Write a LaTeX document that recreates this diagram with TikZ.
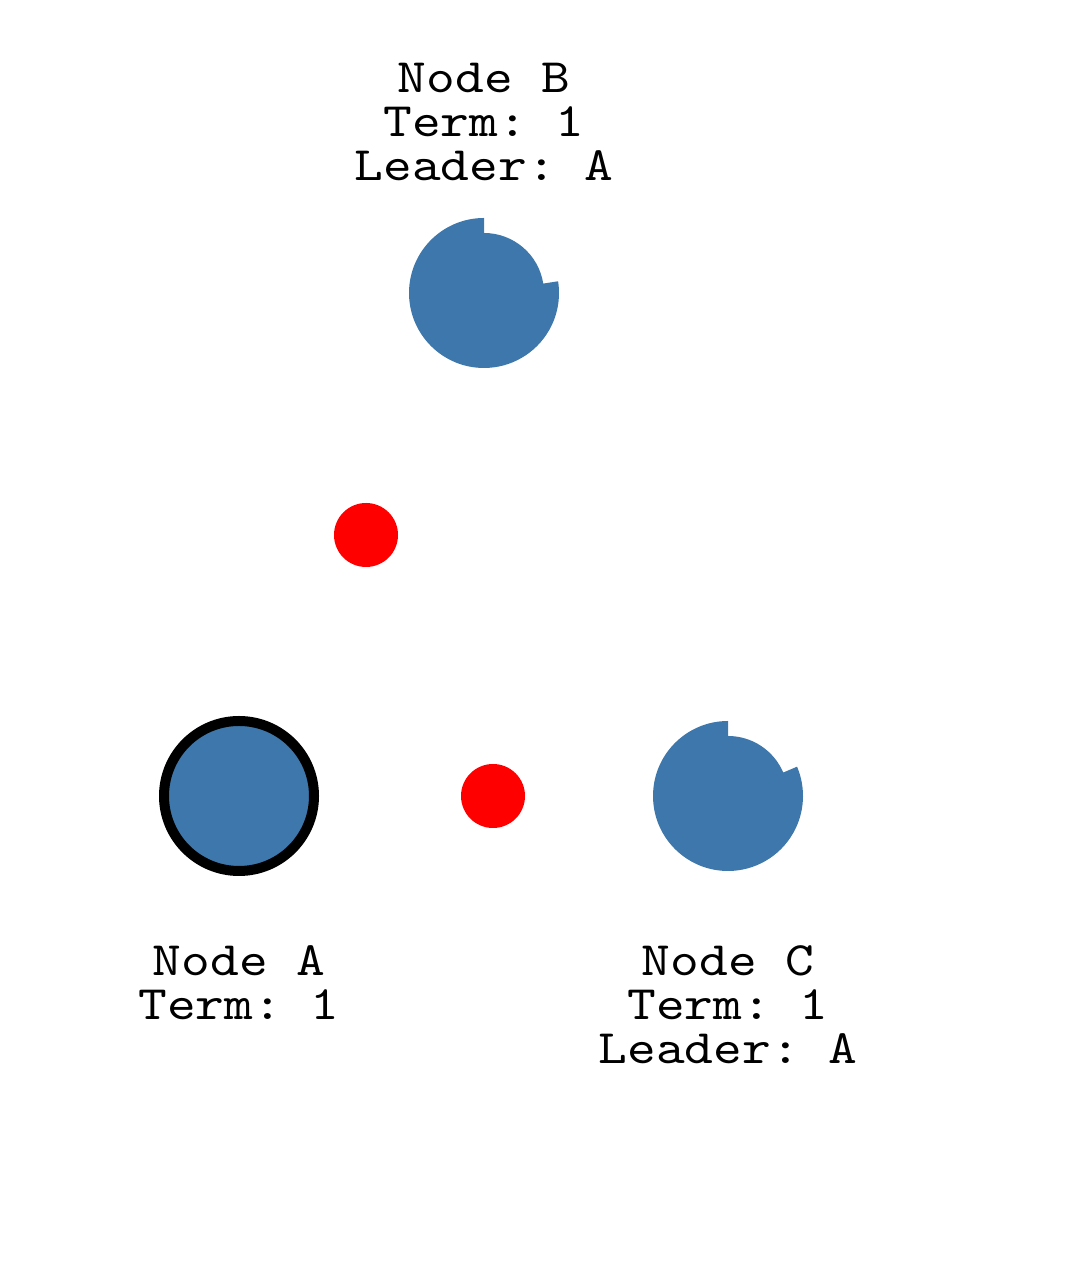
\documentclass[tikz,border=0pt]{standalone}
\usepackage{fontspec}
\newfontfamily\labelfont{lmmono10-regular.otf}[FakeStretch=1.14]
\definecolor{nodeblue}{RGB}{61,119,171}
\begin{document}
\begin{tikzpicture}[x=0.75pt,y=0.75pt,thick,
    leader node/.style={circle,draw=black,line width=7.5pt,fill=nodeblue,minimum size=112.5pt,inner sep=0},
    msg node/.style={circle,fill=red,minimum size=48pt,inner sep=0},
    label node/.style={align=center,inner sep=0,anchor=north,font=\labelfont\fontsize{36}{33}\selectfont\frenchspacing},
    follower/.style={fill=nodeblue}]
                \useasboundingbox (0,0) rectangle (1070,1280);
                \node[leader node] at (239, 484) (a) {};
                \coordinate (b) at (484, 987);
                \coordinate (c) at (728, 484);
                \fill[follower] (b) ++(90:75) arc[start angle=90, end angle=369, radius=75] -- ++(189:15) arc[start angle=9, end angle=90, radius=60] -- cycle;
                \fill[follower] (c) ++(90:75) arc[start angle=90, end angle=383, radius=75] -- ++(203:15) arc[start angle=23, end angle=90, radius=60] -- cycle;

                \node[msg node] at (366, 745) (ab) {};
                \node[msg node] at (493, 484) (ac) {};

                \node[label node] at (484, 1217) (lb) {Node B\\Term: 1\\Leader: A};
                \node[label node] at (239, 335) (la) {Node A\\Term: 1};
                \node[label node] at (728, 335) (lc) {Node C\\Term: 1\\Leader: A};
            \end{tikzpicture}
\end{document}
